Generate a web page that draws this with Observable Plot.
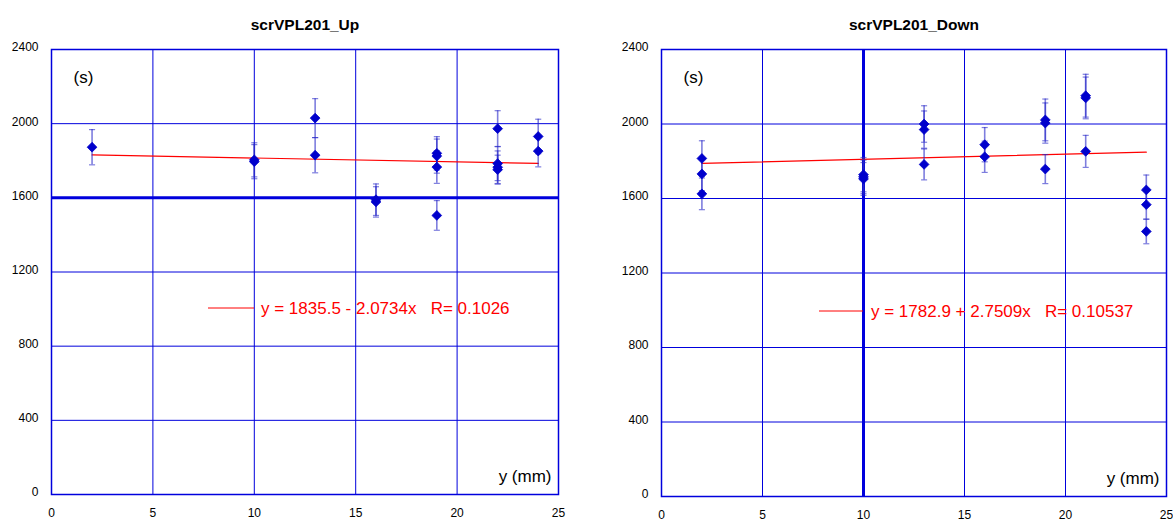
<!DOCTYPE html>
<html>
<head>
<meta charset="utf-8">
<script src="https://cdn.jsdelivr.net/npm/d3@7"></script>
<script src="https://cdn.jsdelivr.net/npm/@observablehq/plot@0.6"></script>
<style>
  body { margin: 0; background: #fff; font-family: "Liberation Sans", Arial, sans-serif; }
  #wrap { display: flex; width: 1173px; height: 524px; }
  #wrap svg { display: block; }
</style>
</head>
<body>
<div id="wrap"></div>
<script>
// Axis ticks shared by both panels
const yTicks = [0, 400, 800, 1200, 1600, 2000, 2400];
const xTicks = [0, 5, 10, 15, 20, 25];

// scrVPL201_Up: position y (mm), time (s), error (s)
const upY   = [2, 10, 10, 13, 13, 16, 16, 19, 19, 19, 19, 22, 22, 22, 22, 24, 24];
const upT   = [1873, 1805, 1795, 2030, 1830, 1590, 1578, 1840, 1825, 1766, 1505, 1973, 1785, 1765, 1752, 1931, 1852];
const upErr = [95, 92, 92, 105, 95, 85, 82, 90, 92, 88, 80, 97, 92, 88, 78, 93, 85];
const upCoef = [1835.5, -2.0734];
const upR = 0.1026;

// scrVPL201_Down: position y (mm), time (s), error (s)
const downY   = [2, 2, 2, 10, 10, 10, 13, 13, 13, 16, 16, 19, 19, 19, 21, 21, 21, 24, 24, 24];
const downT   = [1815, 1732, 1625, 1728, 1716, 1705, 2000, 1970, 1783, 1889, 1824, 2022, 2005, 1758, 2152, 2140, 1853, 1646, 1567, 1423];
const downErr = [95, 90, 85, 92, 90, 88, 98, 100, 83, 92, 84, 112, 108, 78, 115, 112, 86, 80, 78, 66];
const downCoef = [1782.9, 2.7509];
const downR = 0.10537;

const BLUE = "#0000dd";
const PT = "#0000cc";
const ERR = "rgba(40,40,200,0.6)";
const FONT = "Liberation Sans, Arial, sans-serif";

function panel({title, xs, ts, errs, coef, r, width, margin, heavy, legend}) {
  const pts = xs.map((x, i) => ({x, t: ts[i], e: errs[i]}));
  const fitX = d3.extent(xs);
  const fit = fitX.map(x => ({x, t: coef[0] + coef[1] * x}));
  const caps = pts.flatMap(d => [d.t - d.e, d.t + d.e].map(v => ({x: d.x, v})));
  const sign = coef[1] < 0 ? "-" : "+";
  const eq = `y = ${coef[0]} ${sign} ${Math.abs(coef[1])}x   R= ${r}`;

  const plot = Plot.plot({
    width,
    height: 524,
    marginLeft: margin[0],
    marginRight: margin[1],
    marginTop: margin[2],
    marginBottom: margin[3],
    x: {domain: [0, 25], label: null},
    y: {domain: [0, 2400], label: null},
    style: {fontFamily: FONT, fontSize: "12px", background: "white", overflow: "visible"},
    marks: [
      Plot.gridX(xTicks, {stroke: BLUE, strokeOpacity: 1}),
      Plot.gridY(yTicks, {stroke: BLUE, strokeOpacity: 1}),
      heavy,
      Plot.frame({stroke: BLUE, strokeWidth: 1.5}),
      Plot.axisX(xTicks, {tickSize: 0, tickPadding: 14, fontSize: 12, fill: "#000", tickFormat: d => String(d), label: null}),
      Plot.axisY(yTicks, {tickSize: 0, tickPadding: 13, fontSize: 12, dy: -2, fill: "#000", tickFormat: d => String(d), label: null}),
      Plot.line(fit, {x: "x", y: "t", stroke: "#ff0000", strokeWidth: 1.2}),
      Plot.ruleX(pts, {x: "x", y1: d => d.t - d.e, y2: d => d.t + d.e, stroke: ERR, strokeWidth: 1.6}),
      Plot.link(caps, {x1: d => d.x - 0.15, x2: d => d.x + 0.15, y1: "v", y2: "v", stroke: ERR, strokeWidth: 1.2}),
      Plot.dot(pts, {x: "x", y: "t", symbol: "diamond2", r: 4.4, fill: PT, stroke: PT, strokeWidth: 0.8}),
      Plot.text([title], {frameAnchor: "top", dy: -31, fontWeight: "bold", fontSize: 15.5, fill: "#000"}),
      Plot.text(["(s)"], {frameAnchor: "top-left", dx: 22, dy: 21, textAnchor: "start", fontSize: 17, fill: "#000"}),
      Plot.text(["y (mm)"], {frameAnchor: "bottom-right", dx: -7, dy: -13, textAnchor: "end", fontSize: 17, fill: "#000"})
    ]
  });

  // Regression legend: red key line followed by the fitted equation
  const svg = d3.select(plot);
  const g = svg.append("g");
  g.append("line")
    .attr("x1", legend.x1).attr("x2", legend.x2)
    .attr("y1", legend.ly).attr("y2", legend.ly)
    .attr("stroke", "#ff0000").attr("stroke-width", 1);
  g.append("text")
    .attr("x", legend.tx).attr("y", legend.ty)
    .attr("text-anchor", "start")
    .attr("fill", "#ff0000")
    .attr("font-size", 17)
    .attr("font-family", FONT)
    .style("white-space", "pre")
    .text(eq);
  return plot;
}

const wrap = document.getElementById("wrap");

wrap.appendChild(panel({
  title: "scrVPL201_Up",
  xs: upY, ts: upT, errs: upErr, coef: upCoef, r: upR,
  width: 586,
  margin: [51, 28, 49, 30],
  heavy: Plot.ruleY([1600], {stroke: BLUE, strokeWidth: 3}),
  legend: {x1: 208, x2: 254, ly: 308, tx: 261, ty: 313.5}
}));

wrap.appendChild(panel({
  title: "scrVPL201_Down",
  xs: downY, ts: downT, errs: downErr, coef: downCoef, r: downR,
  width: 587,
  margin: [75, 7, 49, 28],
  heavy: Plot.ruleX([10], {stroke: BLUE, strokeWidth: 3}),
  legend: {x1: 233, x2: 277, ly: 311, tx: 285, ty: 316.5}
}));
</script>
</body>
</html>
